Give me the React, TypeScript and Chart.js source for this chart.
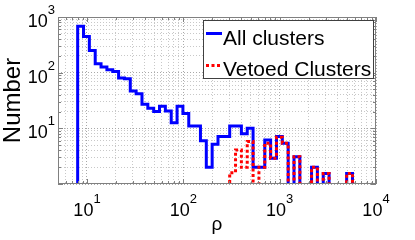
import React, { useEffect, useRef } from 'react';
import { Chart, registerables } from 'chart.js';

Chart.register(...registerables);

// Histogram bin edges in rho (logarithmic bins)
const binEdges = [
  8, 9.2, 10.58, 12.17, 13.99, 16.09, 18.5, 21.28, 24.47, 28.14, 32.36, 37.22,
  42.8, 49.22, 56.61, 65.1, 74.86, 86.09, 99.0, 113.85, 130.93, 150.57, 173.16,
  199.13, 229.0, 263.35, 302.85, 348.28, 400.52, 460.6, 529.69, 609.15, 700.52,
  805.6, 926.44, 1065.4, 1225.2, 1409.0, 1620.3, 1863.4, 2142.9, 2464.3, 2834.0,
  3259.1, 3748.0, 4310.2, 4956.7, 5700.2,
];

// Counts per bin
const allClusters = [
  680, 445, 250, 145, 126, 113, 105, 80, 78, 47, 42, 27, 23, 20, 25, 20.5, 12.6,
  25, 18.5, 11, 11, 6, 2, 5.2, 7.1, 7.1, 11, 11, 8, 10, 2, 2, 6.2, 2.9, 7.1, 5.4,
  0, 3.1, 0, 0, 2, 0, 1.55, 0, 0, 0, 1.55,
];

const vetoedClusters = [
  0, 0, 0, 0, 0, 0, 0, 0, 0, 0, 0, 0, 0, 0, 0, 0, 0, 0, 0, 0, 0, 0, 0, 0, 0, 0,
  1.6, 4.1, 2.0, 5.8, 0, 2, 5.4, 2.9, 6.9, 5.4, 0, 3.1, 0, 0, 2, 0, 1.55, 0, 0, 0,
  1.55,
];

const seriesLabels = ['All clusters', 'Vetoed Clusters'];
const xTickExponents = [1, 2, 3, 4];
const yTickExponents = [1, 2, 3];
const xTitle = 'ρ';
const yTitle = 'Number';

const X_MIN = 5;
const X_MAX = 10000;
const Y_MIN = 1;
const Y_MAX = 1000;
const FLOOR = 0.05; // zero counts drawn below the visible axis range

const FONT = '"Liberation Sans", Arial, Helvetica, sans-serif';

function stairs(edges: number[], counts: number[]) {
  const pts: { x: number; y: number }[] = [];
  pts.push({ x: edges[0], y: FLOOR });
  counts.forEach((c, i) => pts.push({ x: edges[i], y: c > 0 ? c : FLOOR }));
  pts.push({ x: edges[counts.length], y: FLOOR });
  return pts;
}

function logGrid(min: number, max: number) {
  const vals: number[] = [];
  for (let e = Math.floor(Math.log10(min)); e <= Math.ceil(Math.log10(max)); e++) {
    for (let m = 1; m <= 9; m++) {
      const v = m * Math.pow(10, e);
      if (v >= min - 1e-9 && v <= max + 1e-9) vals.push(v);
    }
  }
  return vals;
}

const isPow10 = (v: number) => Math.abs(Math.log10(v) - Math.round(Math.log10(v))) < 1e-9;

const overlay = {
  id: 'overlay',
  afterDatasetsDraw(chart: any) {
    const { ctx, chartArea: a, scales } = chart;
    const xs = scales.x;
    const ys = scales.y;
    ctx.save();

    // inward tick marks
    ctx.strokeStyle = '#808080';
    ctx.lineWidth = 1;
    ctx.setLineDash([]);
    ctx.beginPath();
    xs.ticks.forEach((t: any) => {
      const px = Math.round(xs.getPixelForValue(t.value)) + 0.5;
      const len = isPow10(t.value) ? 5 : 3;
      ctx.moveTo(px, a.bottom);
      ctx.lineTo(px, a.bottom - len);
      ctx.moveTo(px, a.top);
      ctx.lineTo(px, a.top + len);
    });
    ys.ticks.forEach((t: any) => {
      const py = Math.round(ys.getPixelForValue(t.value)) + 0.5;
      const len = isPow10(t.value) ? 5 : 3;
      ctx.moveTo(a.left, py);
      ctx.lineTo(a.left + len, py);
      ctx.moveTo(a.right, py);
      ctx.lineTo(a.right - len, py);
    });
    ctx.stroke();
    ctx.strokeRect(a.left + 0.5, a.top + 0.5, a.right - a.left - 1, a.bottom - a.top - 1);

    // tick labels 10^n
    ctx.fillStyle = '#000';
    ctx.textBaseline = 'alphabetic';
    ctx.textAlign = 'left';
    const big = `18px ${FONT}`;
    const small = `13px ${FONT}`;
    xTickExponents.forEach((e) => {
      const px = xs.getPixelForValue(Math.pow(10, e));
      ctx.font = big;
      const w1 = ctx.measureText('10').width;
      ctx.font = small;
      const w2 = ctx.measureText(String(e)).width;
      const start = px - (w1 + w2) / 2;
      ctx.font = big;
      ctx.fillText('10', start, a.bottom + 32);
      ctx.font = small;
      ctx.fillText(String(e), start + w1, a.bottom + 19);
    });
    yTickExponents.forEach((e) => {
      const py = ys.getPixelForValue(Math.pow(10, e));
      ctx.font = big;
      const w1 = ctx.measureText('10').width;
      ctx.font = small;
      const w2 = ctx.measureText(String(e)).width;
      const start = a.left - 3 - (w1 + w2);
      ctx.font = big;
      ctx.fillText('10', start, py + 10);
      ctx.font = small;
      ctx.fillText(String(e), start + w1, py - 3);
    });

    // legend
    const bx = a.right - 173;
    const by = a.top + 3;
    const bw = 171;
    const bh = 59;
    ctx.fillStyle = '#fff';
    ctx.fillRect(bx, by, bw, bh);
    ctx.strokeStyle = '#404040';
    ctx.lineWidth = 1;
    ctx.strokeRect(bx + 0.5, by + 0.5, bw - 1, bh - 1);
    const rows = [
      { ds: chart.data.datasets[0], lineY: by + 13.5, textY: by + 25 },
      { ds: chart.data.datasets[1], lineY: by + 45.5, textY: by + 56 },
    ];
    rows.forEach((r) => {
      ctx.strokeStyle = r.ds.borderColor;
      ctx.lineWidth = 3;
      ctx.setLineDash(r.ds.borderDash || []);
      ctx.beginPath();
      ctx.moveTo(bx + 3, r.lineY);
      ctx.lineTo(bx + 19, r.lineY);
      ctx.stroke();
      ctx.setLineDash([]);
      ctx.fillStyle = '#000';
      ctx.font = `21px ${FONT}`;
      ctx.fillText(r.ds.label, bx + 20, r.textY);
    });
    ctx.restore();
  },
};

export default function App() {
  const ref = useRef<HTMLCanvasElement | null>(null);
  useEffect(() => {
    if (!ref.current) return;
    const xGrid = logGrid(X_MIN, X_MAX);
    const yGrid = logGrid(Y_MIN, Y_MAX);
    const gridColor = (c: any) => (c.tick && isPow10(c.tick.value) ? '#a8a8a8' : '#c8c8c8');
    const chart = new Chart(ref.current, {
      type: 'line',
      data: {
        datasets: [
          {
            label: seriesLabels[0],
            data: stairs(binEdges, allClusters),
            borderColor: '#0000ff',
            borderWidth: 3,
            stepped: 'before',
            pointRadius: 0,
            fill: false,
            order: 2,
          },
          {
            label: seriesLabels[1],
            data: stairs(binEdges, vetoedClusters),
            borderColor: '#ff0000',
            borderWidth: 3,
            borderDash: [3, 2.5],
            stepped: 'before',
            pointRadius: 0,
            fill: false,
            order: 1,
          },
        ],
      } as any,
      options: {
        animation: false,
        responsive: false,
        maintainAspectRatio: false,
        layout: { padding: { left: 0, top: 17, right: 39, bottom: 0 } },
        scales: {
          x: {
            type: 'logarithmic',
            min: X_MIN,
            max: X_MAX,
            afterBuildTicks: (s: any) => {
              s.ticks = xGrid.map((v) => ({ value: v }));
            },
            afterFit: (s: any) => {
              s.height = 56;
            },
            ticks: { display: false },
            grid: { color: gridColor, lineWidth: 1, drawTicks: false },
            border: { display: false, dash: [1, 2] },
            title: {
              display: true,
              text: xTitle,
              color: '#000',
              font: { family: FONT, size: 19 },
              padding: { top: 0, bottom: 4 },
            },
          },
          y: {
            type: 'logarithmic',
            min: Y_MIN,
            max: Y_MAX,
            afterBuildTicks: (s: any) => {
              s.ticks = yGrid.map((v) => ({ value: v }));
            },
            afterFit: (s: any) => {
              s.width = 58;
            },
            ticks: { display: false },
            grid: { color: gridColor, lineWidth: 1, drawTicks: false },
            border: { display: false, dash: [1, 2] },
            title: {
              display: true,
              text: yTitle,
              color: '#000',
              font: { family: FONT, size: 24 },
              padding: { top: -1, bottom: 0 },
            },
          },
        },
        plugins: {
          legend: { display: false },
          tooltip: { enabled: false },
        },
      } as any,
      plugins: [overlay],
    });
    return () => chart.destroy();
  }, []);
  return (
    <div style={{ position: 'fixed', left: 0, top: 0, width: 415, height: 240, background: '#fff' }}>
      <canvas ref={ref} width={415} height={240} style={{ width: 415, height: 240, display: 'block' }} />
    </div>
  );
}
